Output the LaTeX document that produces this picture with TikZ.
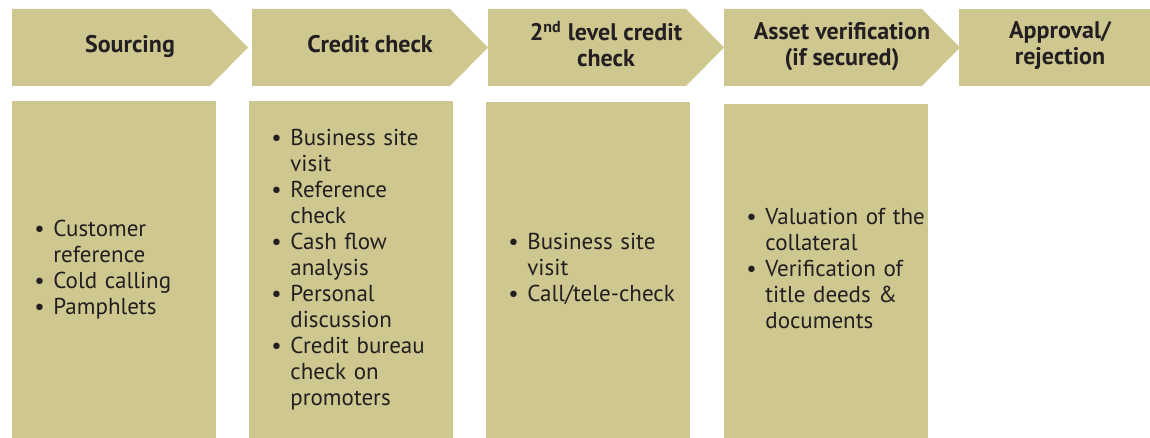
\documentclass[tikz,border=0pt]{standalone}
\usepackage{fontspec}
\setmainfont{PT Sans}
\usepackage{tikz}
\usetikzlibrary{positioning}
\definecolor{khaki}{RGB}{206,199,144}
\definecolor{inkgrey}{RGB}{35,31,32}
\tikzset{
  stepfill/.style={fill=khaki},
  headtext/.style={text=inkgrey, align=center, font=\fontsize{12}{13}\selectfont\bfseries,
    inner sep=0pt, text depth=0pt},
  detailbox/.style={fill=khaki, anchor=north west, minimum width=102pt, text width=80pt,
    inner xsep=11pt, inner ysep=0pt, align=left, text=inkgrey,
    font=\fontsize{11.5}{13}\selectfont}
}
\newcommand{\bl}{\makebox[9.5pt][l]{\textbullet}}
\begin{document}
\begin{tikzpicture}[x=0.5pt,y=-0.5pt]
\useasboundingbox (0,0) rectangle (1150,438);
\foreach \x/\nm/\txt in {12/src/{Sourcing}, 252/crd/{Credit check},
  488/lvl/{2\textsuperscript{nd} level credit\\check}, 724/ast/{Asset verification\\(if secured)}} {
  \fill[stepfill] (\x,9) -- ++(198,0) -- ++(38,38.5) -- ++(-38,38.5) -- ++(-198,0) -- cycle;
  \node[headtext] (\nm) at (\x+118,44) {\txt};
}
\fill[stepfill] (959,9) rectangle (1150,86);
\node[headtext] (apr) at (1060,43) {Approval/\\rejection};

\node[detailbox, minimum height=168.5pt] (srcbox) at (12,101)
  {\begin{tabular}{@{}l@{}l@{}}
   \bl & Customer\\ & reference\\ \bl & Cold calling\\ \bl & Pamphlets
   \end{tabular}};
\node[detailbox, minimum height=168.5pt] (crdbox) at (249,101)
  {\begin{tabular}{@{}l@{}l@{}}
   \bl & Business site\\ & visit\\ \bl & Reference\\ & check\\ \bl & Cash flow\\ & analysis\\
   \bl & Personal\\ & discussion\\ \bl & Credit bureau\\ & check on\\ & promoters
   \end{tabular}};
\node[detailbox, minimum height=168pt] (lvlbox) at (486,102)
  {\begin{tabular}{@{}l@{}l@{}}
   \bl & Business site\\ & visit\\ \bl & Call/tele-check
   \end{tabular}};
\node[detailbox, minimum height=167pt] (astbox) at (724,104)
  {\begin{tabular}{@{}l@{}l@{}}
   \bl & Valuation of the\\ & collateral\\ \bl & Verification of\\ & title deeds \&\\ & documents
   \end{tabular}};
\end{tikzpicture}
\end{document}
